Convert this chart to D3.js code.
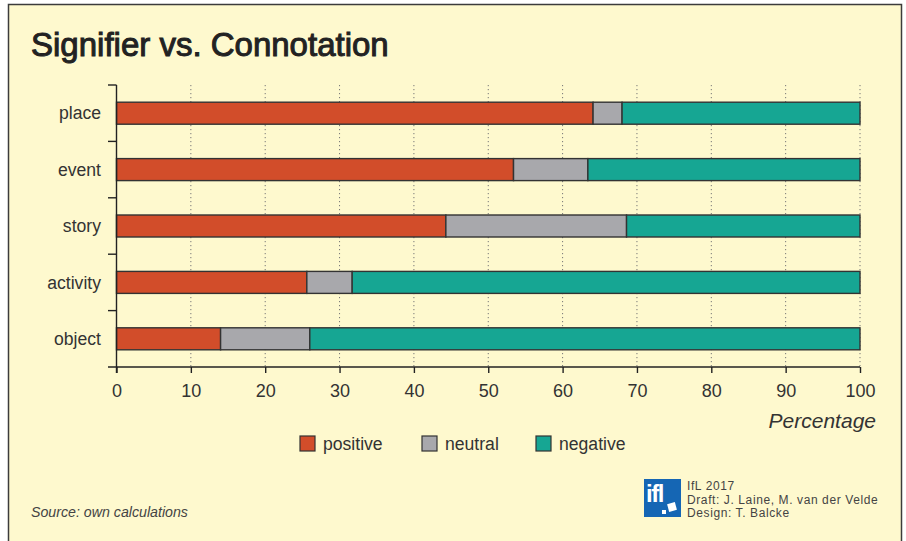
<!doctype html>
<html>
<head>
<meta http-equiv="Content-type" content="text/html; charset=utf-8"/>
<script src="https://d3js.org/d3.v7.min.js"></script>
<style>
  body { margin:0; background:#fff; }
  svg text { font-family: "Liberation Sans", Arial, sans-serif; fill:#333; }
</style>
</head>
<body>
<svg width="906" height="541"></svg>
<script>
var categories = ["place", "event", "story", "activity", "object"];
var positive = [64.1, 53.4, 44.3, 25.6, 14.0];
var neutral  = [3.9, 10.0, 24.3, 6.1, 12.0];
var negative = [32.0, 36.6, 31.4, 68.3, 74.0];
var seriesNames = ["positive", "neutral", "negative"];
var seriesColors = ["#d24d2a", "#a8a8ac", "#16a693"];
var xTicks = [0, 10, 20, 30, 40, 50, 60, 70, 80, 90, 100];

var svg = d3.select("svg");

// card background + frame
svg.append("rect").attr("x", 8.5).attr("y", 4.5).attr("width", 893).attr("height", 545)
   .attr("fill", "#fef9ce").attr("stroke", "#3c3c3c").attr("stroke-width", 1.5);

// title: regular face with a thin stroke to get a medium weight
svg.append("text").attr("x", 31).attr("y", 56)
   .style("font-size", "33px").style("fill", "#222")
   .style("stroke", "#222").style("stroke-width", "1px")
   .text("Signifier vs. Connotation");

var x = d3.scaleLinear().domain([0, 100]).range([116.5, 860]);
var y = d3.scaleBand().domain(categories).range([85, 367]).paddingInner(0.61).paddingOuter(0.305);
var band = d3.scaleBand().domain(categories).range([85, 367]);

// dotted gridlines
svg.append("g").selectAll("line").data(xTicks.slice(1)).enter().append("line")
   .attr("x1", function(d) { return x(d); }).attr("x2", function(d) { return x(d); })
   .attr("y1", 85).attr("y2", 367)
   .attr("stroke", "#777").attr("stroke-width", 1).attr("stroke-dasharray", "1.2,2.8");

// stacked bars
var rows = categories.map(function(c, i) {
  return { cat: c, positive: positive[i], neutral: neutral[i], negative: negative[i] };
});
var stack = d3.stack().keys(seriesNames)(rows);
svg.append("g").selectAll("g").data(stack).enter().append("g")
   .attr("fill", function(d, i) { return seriesColors[i]; })
   .selectAll("rect").data(function(d) { return d; }).enter().append("rect")
   .attr("x", function(d) { return x(d[0]); })
   .attr("width", function(d) { return x(d[1]) - x(d[0]); })
   .attr("y", function(d) { return y(d.data.cat); })
   .attr("height", y.bandwidth())
   .attr("stroke", "#333").attr("stroke-width", 1.4);

// x axis
var xAxis = svg.append("g").attr("transform", "translate(0,367)")
   .call(d3.axisBottom(x).tickValues(xTicks).tickSize(6).tickPadding(11));
xAxis.select(".domain").remove();
xAxis.append("line").attr("x1", 108).attr("x2", 860).attr("stroke", "#222").attr("stroke-width", 1.4);
xAxis.selectAll(".tick line").attr("stroke", "#222").attr("stroke-width", 1.4);
xAxis.selectAll(".tick text").style("font-size", "18px").style("fill", "#333")
   .style("font-family", "Liberation Sans, Arial, sans-serif");

// y axis line + separators
svg.append("line").attr("x1", 116.5).attr("x2", 116.5).attr("y1", 85).attr("y2", 373)
   .attr("stroke", "#222").attr("stroke-width", 1.4);
svg.append("g").selectAll("line").data(categories).enter().append("line")
   .attr("x1", 108).attr("x2", 116.5)
   .attr("y1", function(d) { return band(d); }).attr("y2", function(d) { return band(d); })
   .attr("stroke", "#222").attr("stroke-width", 1.4);
svg.append("g").selectAll("text").data(categories).enter().append("text")
   .attr("x", 101).attr("y", function(d) { return y(d) + y.bandwidth() / 2; })
   .attr("dy", "0.35em").attr("text-anchor", "end")
   .style("font-size", "17.6px").text(function(d) { return d; });

svg.append("text").attr("x", 876).attr("y", 428).attr("text-anchor", "end")
   .style("font-size", "21px").style("font-style", "italic").text("Percentage");

// legend
var legendX = [300, 422, 536];
var lg = svg.append("g").selectAll("g").data(seriesNames).enter().append("g")
   .attr("transform", function(d, i) { return "translate(" + legendX[i] + ",436)"; });
lg.append("rect").attr("width", 15).attr("height", 15)
   .attr("fill", function(d, i) { return seriesColors[i]; })
   .attr("stroke", "#333").attr("stroke-width", 1.2);
lg.append("text").attr("x", 23).attr("y", 14).style("font-size", "17.6px")
   .text(function(d) { return d; });

svg.append("text").attr("x", 31).attr("y", 517)
   .style("font-size", "14.2px").style("font-style", "italic").style("fill", "#444")
   .text("Source: own calculations");

// logo
var logo = svg.append("g").attr("transform", "translate(644,479)");
logo.append("rect").attr("width", 37).attr("height", 38).attr("fill", "#1566b4");
logo.append("text").attr("x", 2).attr("y", 23).style("font-size", "24px").style("font-weight", "bold")
   .style("fill", "#fff").style("letter-spacing", "-1.5px").text("ifl");
logo.append("rect").attr("x", 24).attr("y", 24).attr("width", 8).attr("height", 8).attr("fill", "#fff")
   .attr("transform", "rotate(-15,28,28)");
logo.append("rect").attr("x", 18).attr("y", 31).attr("width", 4).attr("height", 4).attr("fill", "#fff");

var credits = ["IfL 2017", "Draft: J. Laine, M. van der Velde", "Design: T. Balcke"];
svg.append("g").selectAll("text").data(credits).enter().append("text")
   .attr("x", 687).attr("y", function(d, i) { return 490 + i * 13.5; })
   .style("font-size", "12px").style("letter-spacing", "0.6px").style("fill", "#444")
   .text(function(d) { return d; });
</script>
</body>
</html>
